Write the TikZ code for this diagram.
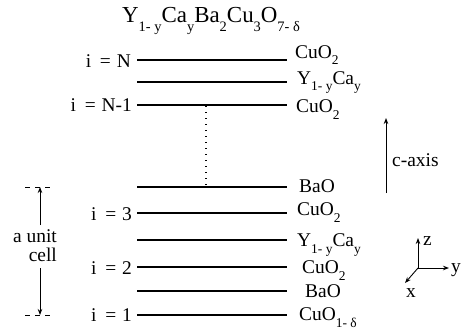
\documentclass[tikz,border=0pt]{standalone}
\usepackage{fontspec}
\setmainfont{Liberation Serif}
\usetikzlibrary{arrows.meta}
\newcommand\lsub[1]{\raisebox{-0.36em}{\fontsize{13.5}{13.5}\selectfont #1}}
\newcommand\tsub[1]{\raisebox{-0.40em}{\fontsize{14.5}{14.5}\selectfont #1}}
\newcommand\eqs{\hspace{0.45em}=\hspace{0.3em}}
\begin{document}
\begin{tikzpicture}[x=1bp,y=-1bp,
  layer/.style={line width=1.1bp},
  lbl/.style={inner sep=0pt, anchor=base west, font=\fontsize{19.5}{21}\selectfont},
  ilbl/.style={inner sep=0pt, anchor=base east, font=\fontsize{19.5}{21}\selectfont},
  arr/.style={line width=0.9bp, -{Stealth[length=6bp,width=4.5bp]}},
  dotline/.style={line width=1.1bp, dash pattern=on 1.2bp off 4.8bp},
  dashline/.style={line width=0.9bp, dash pattern=on 5bp off 5bp}]
\useasboundingbox (0,0) rectangle (465,334);
% title
\node[inner sep=0pt, anchor=base west, font=\fontsize{23}{25}\selectfont] (title) at (122,22)
  {Y\tsub{1- y}Ca\tsub{y}Ba\tsub{2}Cu\tsub{3}O\tsub{7- δ}};
% layers
\foreach \n/\y in {1/60,2/82,3/105,4/187,5/213,6/240,7/267,8/291,9/315}{
  \coordinate (a\n) at (137,\y);
  \coordinate (b\n) at (287,\y);
  \draw[layer] (a\n) -- (b\n);
}
% right labels
\node[lbl] (r1) at (295,58) {CuO\lsub{2}};
\node[lbl] (r2) at (297,84) {Y\lsub{1- y}Ca\lsub{y}};
\node[lbl] (r3) at (296,112) {CuO\lsub{2}};
\node[lbl] (r4) at (299,192) {BaO};
\node[lbl] (r5) at (297,215) {CuO\lsub{2}};
\node[lbl] (r6) at (297,246) {Y\lsub{1- y}Ca\lsub{y}};
\node[lbl] (r7) at (302,273) {CuO\lsub{2}};
\node[lbl] (r8) at (305,297) {BaO};
\node[lbl] (r9) at (299,320) {CuO\lsub{1- δ}};
% left labels
\node[ilbl] (i1) at (131,67) {i\eqs N};
\node[ilbl] (i3) at (132,111) {i\eqs N-1};
\node[ilbl] (i5) at (132,220) {i\eqs 3};
\node[ilbl] (i7) at (132,274) {i\eqs 2};
\node[ilbl] (i9) at (132,321) {i\eqs 1};
% dotted continuation
\coordinate (d1) at (206,106);
\coordinate (d2) at (206,186);
\draw[dotline] (d1) -- (d2);
% c-axis
\coordinate (c0) at (386,193);
\coordinate (c1) at (386,118);
\draw[arr] (c0) -- (c1);
\node[lbl] (caxis) at (392,166) {c-axis};
% unit cell
\coordinate (u1l) at (25,187);
\coordinate (u1r) at (55,187);
\coordinate (u2l) at (25,315);
\coordinate (u2r) at (55,315);
\draw[dashline] (u1l) -- (u1r);
\draw[dashline] (u2l) -- (u2r);
\coordinate (ua) at (40,225);
\coordinate (ub) at (40,268);
\coordinate (ut) at (40,187);
\coordinate (ud) at (40,315);
\draw[arr] (ua) -- (ut);
\draw[arr] (ub) -- (ud);
\node[ilbl] (cell1) at (57,242) {a unit};
\node[ilbl] (cell2) at (57,261) {cell};
% axes
\coordinate (o) at (418,268);
\coordinate (oz) at (418,238);
\coordinate (oy) at (449,268);
\coordinate (ox) at (405,283);
\draw[arr] (o) -- (oz);
\draw[arr] (o) -- (oy);
\draw[arr] (o) -- (ox);
\node[lbl] (zl) at (423,245) {z};
\node[lbl] (yl) at (451,272) {y};
\node[lbl] (xl) at (406,297) {x};
\end{tikzpicture}
\end{document}
